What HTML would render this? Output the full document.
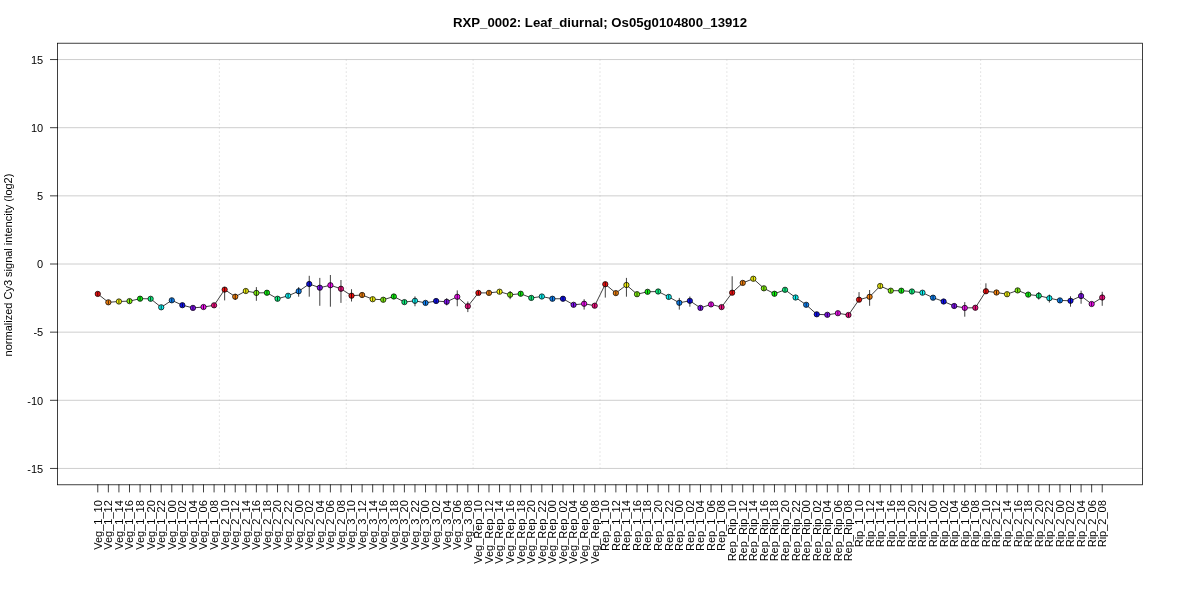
<!DOCTYPE html><html><head><meta charset="utf-8"><title>RXP_0002: Leaf_diurnal; Os05g0104800_13912</title>
<style>html,body{margin:0;padding:0;background:#fff;width:1200px;height:600px;overflow:hidden}svg{display:block;will-change:transform}text{font-family:"Liberation Sans",Arial,Helvetica,sans-serif;fill:#000}</style></head><body>
<svg width="1200" height="600" viewBox="0 0 1200 600">
<rect width="1200" height="600" fill="#fff"/>
<path d="M57.6 468.44H1142.4M57.6 400.3H1142.4M57.6 332.15H1142.4M57.6 264H1142.4M57.6 195.85H1142.4M57.6 127.7H1142.4M57.6 59.56H1142.4" stroke="#BEBEBE" stroke-width="0.75" fill="none"/>
<path d="M219.37 59.56V468.44M346.25 59.56V468.44M473.12 59.56V468.44M600 59.56V468.44M726.88 59.56V468.44M853.75 59.56V468.44M980.63 59.56V468.44" stroke="#BEBEBE" stroke-width="0.75" stroke-dasharray="1 3" fill="none"/>
<path d="M97.78 293.9 L108.35 302.3 L118.92 301.5 L129.5 301.1 L140.07 298.7 L150.64 298.8 L161.22 307.3 L171.79 300.3 L182.36 305.2 L192.94 307.9 L203.51 307 L214.08 305.3 L224.65 289.6 L235.23 296.7 L245.8 291 L256.37 292.9 L266.95 292.75 L277.52 298.75 L288.09 295.8 L298.67 291.25 L309.24 284 L319.81 287.7 L330.39 285.25 L340.96 288.75 L351.53 295.7 L362.11 295 L372.68 299.2 L383.25 299.75 L393.82 296.5 L404.4 302.1 L414.97 300.8 L425.54 302.9 L436.12 301 L446.69 301.8 L457.26 296.8 L467.84 306.25 L478.41 292.9 L488.98 292.9 L499.56 291.7 L510.13 294.75 L520.7 293.75 L531.27 297.9 L541.85 296.5 L552.42 298.75 L562.99 298.75 L573.57 304.8 L584.14 303.75 L594.71 305.7 L605.29 284.2 L615.86 293.1 L626.43 285 L637.01 294.2 L647.58 291.8 L658.15 291.5 L668.73 296.9 L679.3 302.8 L689.87 300.8 L700.44 307.9 L711.02 304.4 L721.59 307.1 L732.16 292.7 L742.74 282.9 L753.31 278.75 L763.88 288.3 L774.46 293.75 L785.03 289.8 L795.6 297.5 L806.18 304.8 L816.75 314.3 L827.32 314.8 L837.89 313.2 L848.47 315 L859.04 299.7 L869.61 296.8 L880.19 286 L890.76 290.7 L901.33 290.7 L911.91 291.5 L922.48 292.7 L933.05 297.7 L943.63 301.5 L954.2 306 L964.77 307.9 L975.35 307.75 L985.92 291.25 L996.49 292.5 L1007.06 294.2 L1017.64 290.4 L1028.21 294.6 L1038.78 295.7 L1049.36 298.2 L1059.93 300.4 L1070.5 300.8 L1081.08 296 L1091.65 304 L1102.22 297.5" stroke="#000" stroke-width="0.75" fill="none" stroke-linejoin="round"/>
<circle cx="97.78" cy="293.9" r="2.65" fill="#F61111" stroke="#000" stroke-width="0.75"/>
<circle cx="108.35" cy="302.3" r="2.65" fill="#F68411" stroke="#000" stroke-width="0.75"/>
<circle cx="118.92" cy="301.5" r="2.65" fill="#F6F611" stroke="#000" stroke-width="0.75"/>
<circle cx="129.5" cy="301.1" r="2.65" fill="#84F611" stroke="#000" stroke-width="0.75"/>
<circle cx="140.07" cy="298.7" r="2.65" fill="#11F611" stroke="#000" stroke-width="0.75"/>
<circle cx="150.64" cy="298.8" r="2.65" fill="#11F684" stroke="#000" stroke-width="0.75"/>
<circle cx="161.22" cy="307.3" r="2.65" fill="#11F6F6" stroke="#000" stroke-width="0.75"/>
<circle cx="171.79" cy="300.3" r="2.65" fill="#1184F6" stroke="#000" stroke-width="0.75"/>
<circle cx="182.36" cy="305.2" r="2.65" fill="#1111F6" stroke="#000" stroke-width="0.75"/>
<circle cx="192.94" cy="307.9" r="2.65" fill="#8411F6" stroke="#000" stroke-width="0.75"/>
<circle cx="203.51" cy="307" r="2.65" fill="#F611F6" stroke="#000" stroke-width="0.75"/>
<circle cx="214.08" cy="305.3" r="2.65" fill="#F61184" stroke="#000" stroke-width="0.75"/>
<circle cx="224.65" cy="289.6" r="2.65" fill="#F61111" stroke="#000" stroke-width="0.75"/>
<circle cx="235.23" cy="296.7" r="2.65" fill="#F68411" stroke="#000" stroke-width="0.75"/>
<circle cx="245.8" cy="291" r="2.65" fill="#F6F611" stroke="#000" stroke-width="0.75"/>
<circle cx="256.37" cy="292.9" r="2.65" fill="#84F611" stroke="#000" stroke-width="0.75"/>
<circle cx="266.95" cy="292.75" r="2.65" fill="#11F611" stroke="#000" stroke-width="0.75"/>
<circle cx="277.52" cy="298.75" r="2.65" fill="#11F684" stroke="#000" stroke-width="0.75"/>
<circle cx="288.09" cy="295.8" r="2.65" fill="#11F6F6" stroke="#000" stroke-width="0.75"/>
<circle cx="298.67" cy="291.25" r="2.65" fill="#1184F6" stroke="#000" stroke-width="0.75"/>
<circle cx="309.24" cy="284" r="2.65" fill="#1111F6" stroke="#000" stroke-width="0.75"/>
<circle cx="319.81" cy="287.7" r="2.65" fill="#8411F6" stroke="#000" stroke-width="0.75"/>
<circle cx="330.39" cy="285.25" r="2.65" fill="#F611F6" stroke="#000" stroke-width="0.75"/>
<circle cx="340.96" cy="288.75" r="2.65" fill="#F61184" stroke="#000" stroke-width="0.75"/>
<circle cx="351.53" cy="295.7" r="2.65" fill="#F61111" stroke="#000" stroke-width="0.75"/>
<circle cx="362.11" cy="295" r="2.65" fill="#F68411" stroke="#000" stroke-width="0.75"/>
<circle cx="372.68" cy="299.2" r="2.65" fill="#F6F611" stroke="#000" stroke-width="0.75"/>
<circle cx="383.25" cy="299.75" r="2.65" fill="#84F611" stroke="#000" stroke-width="0.75"/>
<circle cx="393.82" cy="296.5" r="2.65" fill="#11F611" stroke="#000" stroke-width="0.75"/>
<circle cx="404.4" cy="302.1" r="2.65" fill="#11F684" stroke="#000" stroke-width="0.75"/>
<circle cx="414.97" cy="300.8" r="2.65" fill="#11F6F6" stroke="#000" stroke-width="0.75"/>
<circle cx="425.54" cy="302.9" r="2.65" fill="#1184F6" stroke="#000" stroke-width="0.75"/>
<circle cx="436.12" cy="301" r="2.65" fill="#1111F6" stroke="#000" stroke-width="0.75"/>
<circle cx="446.69" cy="301.8" r="2.65" fill="#8411F6" stroke="#000" stroke-width="0.75"/>
<circle cx="457.26" cy="296.8" r="2.65" fill="#F611F6" stroke="#000" stroke-width="0.75"/>
<circle cx="467.84" cy="306.25" r="2.65" fill="#F61184" stroke="#000" stroke-width="0.75"/>
<circle cx="478.41" cy="292.9" r="2.65" fill="#F61111" stroke="#000" stroke-width="0.75"/>
<circle cx="488.98" cy="292.9" r="2.65" fill="#F68411" stroke="#000" stroke-width="0.75"/>
<circle cx="499.56" cy="291.7" r="2.65" fill="#F6F611" stroke="#000" stroke-width="0.75"/>
<circle cx="510.13" cy="294.75" r="2.65" fill="#84F611" stroke="#000" stroke-width="0.75"/>
<circle cx="520.7" cy="293.75" r="2.65" fill="#11F611" stroke="#000" stroke-width="0.75"/>
<circle cx="531.27" cy="297.9" r="2.65" fill="#11F684" stroke="#000" stroke-width="0.75"/>
<circle cx="541.85" cy="296.5" r="2.65" fill="#11F6F6" stroke="#000" stroke-width="0.75"/>
<circle cx="552.42" cy="298.75" r="2.65" fill="#1184F6" stroke="#000" stroke-width="0.75"/>
<circle cx="562.99" cy="298.75" r="2.65" fill="#1111F6" stroke="#000" stroke-width="0.75"/>
<circle cx="573.57" cy="304.8" r="2.65" fill="#8411F6" stroke="#000" stroke-width="0.75"/>
<circle cx="584.14" cy="303.75" r="2.65" fill="#F611F6" stroke="#000" stroke-width="0.75"/>
<circle cx="594.71" cy="305.7" r="2.65" fill="#F61184" stroke="#000" stroke-width="0.75"/>
<circle cx="605.29" cy="284.2" r="2.65" fill="#F61111" stroke="#000" stroke-width="0.75"/>
<circle cx="615.86" cy="293.1" r="2.65" fill="#F68411" stroke="#000" stroke-width="0.75"/>
<circle cx="626.43" cy="285" r="2.65" fill="#F6F611" stroke="#000" stroke-width="0.75"/>
<circle cx="637.01" cy="294.2" r="2.65" fill="#84F611" stroke="#000" stroke-width="0.75"/>
<circle cx="647.58" cy="291.8" r="2.65" fill="#11F611" stroke="#000" stroke-width="0.75"/>
<circle cx="658.15" cy="291.5" r="2.65" fill="#11F684" stroke="#000" stroke-width="0.75"/>
<circle cx="668.73" cy="296.9" r="2.65" fill="#11F6F6" stroke="#000" stroke-width="0.75"/>
<circle cx="679.3" cy="302.8" r="2.65" fill="#1184F6" stroke="#000" stroke-width="0.75"/>
<circle cx="689.87" cy="300.8" r="2.65" fill="#1111F6" stroke="#000" stroke-width="0.75"/>
<circle cx="700.44" cy="307.9" r="2.65" fill="#8411F6" stroke="#000" stroke-width="0.75"/>
<circle cx="711.02" cy="304.4" r="2.65" fill="#F611F6" stroke="#000" stroke-width="0.75"/>
<circle cx="721.59" cy="307.1" r="2.65" fill="#F61184" stroke="#000" stroke-width="0.75"/>
<circle cx="732.16" cy="292.7" r="2.65" fill="#F61111" stroke="#000" stroke-width="0.75"/>
<circle cx="742.74" cy="282.9" r="2.65" fill="#F68411" stroke="#000" stroke-width="0.75"/>
<circle cx="753.31" cy="278.75" r="2.65" fill="#F6F611" stroke="#000" stroke-width="0.75"/>
<circle cx="763.88" cy="288.3" r="2.65" fill="#84F611" stroke="#000" stroke-width="0.75"/>
<circle cx="774.46" cy="293.75" r="2.65" fill="#11F611" stroke="#000" stroke-width="0.75"/>
<circle cx="785.03" cy="289.8" r="2.65" fill="#11F684" stroke="#000" stroke-width="0.75"/>
<circle cx="795.6" cy="297.5" r="2.65" fill="#11F6F6" stroke="#000" stroke-width="0.75"/>
<circle cx="806.18" cy="304.8" r="2.65" fill="#1184F6" stroke="#000" stroke-width="0.75"/>
<circle cx="816.75" cy="314.3" r="2.65" fill="#1111F6" stroke="#000" stroke-width="0.75"/>
<circle cx="827.32" cy="314.8" r="2.65" fill="#8411F6" stroke="#000" stroke-width="0.75"/>
<circle cx="837.89" cy="313.2" r="2.65" fill="#F611F6" stroke="#000" stroke-width="0.75"/>
<circle cx="848.47" cy="315" r="2.65" fill="#F61184" stroke="#000" stroke-width="0.75"/>
<circle cx="859.04" cy="299.7" r="2.65" fill="#F61111" stroke="#000" stroke-width="0.75"/>
<circle cx="869.61" cy="296.8" r="2.65" fill="#F68411" stroke="#000" stroke-width="0.75"/>
<circle cx="880.19" cy="286" r="2.65" fill="#F6F611" stroke="#000" stroke-width="0.75"/>
<circle cx="890.76" cy="290.7" r="2.65" fill="#84F611" stroke="#000" stroke-width="0.75"/>
<circle cx="901.33" cy="290.7" r="2.65" fill="#11F611" stroke="#000" stroke-width="0.75"/>
<circle cx="911.91" cy="291.5" r="2.65" fill="#11F684" stroke="#000" stroke-width="0.75"/>
<circle cx="922.48" cy="292.7" r="2.65" fill="#11F6F6" stroke="#000" stroke-width="0.75"/>
<circle cx="933.05" cy="297.7" r="2.65" fill="#1184F6" stroke="#000" stroke-width="0.75"/>
<circle cx="943.63" cy="301.5" r="2.65" fill="#1111F6" stroke="#000" stroke-width="0.75"/>
<circle cx="954.2" cy="306" r="2.65" fill="#8411F6" stroke="#000" stroke-width="0.75"/>
<circle cx="964.77" cy="307.9" r="2.65" fill="#F611F6" stroke="#000" stroke-width="0.75"/>
<circle cx="975.35" cy="307.75" r="2.65" fill="#F61184" stroke="#000" stroke-width="0.75"/>
<circle cx="985.92" cy="291.25" r="2.65" fill="#F61111" stroke="#000" stroke-width="0.75"/>
<circle cx="996.49" cy="292.5" r="2.65" fill="#F68411" stroke="#000" stroke-width="0.75"/>
<circle cx="1007.06" cy="294.2" r="2.65" fill="#F6F611" stroke="#000" stroke-width="0.75"/>
<circle cx="1017.64" cy="290.4" r="2.65" fill="#84F611" stroke="#000" stroke-width="0.75"/>
<circle cx="1028.21" cy="294.6" r="2.65" fill="#11F611" stroke="#000" stroke-width="0.75"/>
<circle cx="1038.78" cy="295.7" r="2.65" fill="#11F684" stroke="#000" stroke-width="0.75"/>
<circle cx="1049.36" cy="298.2" r="2.65" fill="#11F6F6" stroke="#000" stroke-width="0.75"/>
<circle cx="1059.93" cy="300.4" r="2.65" fill="#1184F6" stroke="#000" stroke-width="0.75"/>
<circle cx="1070.5" cy="300.8" r="2.65" fill="#1111F6" stroke="#000" stroke-width="0.75"/>
<circle cx="1081.08" cy="296" r="2.65" fill="#8411F6" stroke="#000" stroke-width="0.75"/>
<circle cx="1091.65" cy="304" r="2.65" fill="#F611F6" stroke="#000" stroke-width="0.75"/>
<circle cx="1102.22" cy="297.5" r="2.65" fill="#F61184" stroke="#000" stroke-width="0.75"/>
<path d="M97.78 291.9V295.9M108.35 300.3V304.3M118.92 299.5V303.5M129.5 299.1V303.1M140.07 296.7V300.7M150.64 296.8V300.8M161.22 305.3V309.3M171.79 298.3V302.3M182.36 303.2V307.2M192.94 305.9V309.9M203.51 305V309M214.08 303.3V307.3M224.65 287V300.4M235.23 294V300M245.8 289V293M256.37 287.1V300.8M266.95 290.75V294.75M277.52 296.75V300.75M288.09 293.8V297.8M298.67 287.1V296.7M309.24 275.8V296.7M319.81 277.9V305.8M330.39 275V306.7M340.96 280V302.9M351.53 289.2V301.5M362.11 293V297M372.68 297.2V301.2M383.25 297.75V301.75M393.82 294.5V298.5M404.4 300.1V304.1M414.97 296.4V306.25M425.54 300.9V304.9M436.12 299V303M446.69 298.3V305.4M457.26 290.4V306.25M467.84 301.5V312.1M478.41 290.9V294.9M488.98 290.9V294.9M499.56 289.7V293.7M510.13 291V299.2M520.7 291.75V295.75M531.27 295.9V299.9M541.85 294.5V298.5M552.42 296.75V300.75M562.99 296.75V300.75M573.57 302.8V306.8M584.14 299.2V309.6M594.71 303.7V307.7M605.29 282V297.6M615.86 291.1V295.1M626.43 277.9V296.7M637.01 292.2V296.2M647.58 289.8V293.8M658.15 289.5V293.5M668.73 294.9V298.9M679.3 297.9V309.6M689.87 296.5V306.7M700.44 305.9V309.9M711.02 302.4V306.4M721.59 305.1V309.1M732.16 276.25V294.5M742.74 280.9V284.9M753.31 276.75V280.75M763.88 286.3V290.3M774.46 291.75V295.75M785.03 287.8V291.8M795.6 295.5V299.5M806.18 302.8V306.8M816.75 312.3V316.3M827.32 312.8V316.8M837.89 311.2V315.2M848.47 313V317M859.04 292.1V302M869.61 290V305.8M880.19 284V288M890.76 288.7V292.7M901.33 288.7V292.7M911.91 289.5V293.5M922.48 290.7V294.7M933.05 295.7V299.7M943.63 299.5V303.5M954.2 304V308M964.77 302.1V316.7M975.35 305.75V309.75M985.92 283.3V293.5M996.49 290.5V294.5M1007.06 292.2V296.2M1017.64 288.4V292.4M1028.21 292.6V296.6M1038.78 292V299.6M1049.36 294.6V302.6M1059.93 298.4V302.4M1070.5 296.25V306.7M1081.08 290.7V303.75M1091.65 302V306M1102.22 291.8V305.8" stroke="#000" stroke-width="0.75" fill="none"/>
<rect x="57.6" y="43.2" width="1084.8" height="441.6" fill="none" stroke="#000" stroke-width="0.75"/>
<path d="M50.4 468.44H57.6M50.4 400.3H57.6M50.4 332.15H57.6M50.4 264H57.6M50.4 195.85H57.6M50.4 127.7H57.6M50.4 59.56H57.6M97.78 484.8V492M108.35 484.8V492M118.92 484.8V492M129.5 484.8V492M140.07 484.8V492M150.64 484.8V492M161.22 484.8V492M171.79 484.8V492M182.36 484.8V492M192.94 484.8V492M203.51 484.8V492M214.08 484.8V492M224.65 484.8V492M235.23 484.8V492M245.8 484.8V492M256.37 484.8V492M266.95 484.8V492M277.52 484.8V492M288.09 484.8V492M298.67 484.8V492M309.24 484.8V492M319.81 484.8V492M330.39 484.8V492M340.96 484.8V492M351.53 484.8V492M362.11 484.8V492M372.68 484.8V492M383.25 484.8V492M393.82 484.8V492M404.4 484.8V492M414.97 484.8V492M425.54 484.8V492M436.12 484.8V492M446.69 484.8V492M457.26 484.8V492M467.84 484.8V492M478.41 484.8V492M488.98 484.8V492M499.56 484.8V492M510.13 484.8V492M520.7 484.8V492M531.27 484.8V492M541.85 484.8V492M552.42 484.8V492M562.99 484.8V492M573.57 484.8V492M584.14 484.8V492M594.71 484.8V492M605.29 484.8V492M615.86 484.8V492M626.43 484.8V492M637.01 484.8V492M647.58 484.8V492M658.15 484.8V492M668.73 484.8V492M679.3 484.8V492M689.87 484.8V492M700.44 484.8V492M711.02 484.8V492M721.59 484.8V492M732.16 484.8V492M742.74 484.8V492M753.31 484.8V492M763.88 484.8V492M774.46 484.8V492M785.03 484.8V492M795.6 484.8V492M806.18 484.8V492M816.75 484.8V492M827.32 484.8V492M837.89 484.8V492M848.47 484.8V492M859.04 484.8V492M869.61 484.8V492M880.19 484.8V492M890.76 484.8V492M901.33 484.8V492M911.91 484.8V492M922.48 484.8V492M933.05 484.8V492M943.63 484.8V492M954.2 484.8V492M964.77 484.8V492M975.35 484.8V492M985.92 484.8V492M996.49 484.8V492M1007.06 484.8V492M1017.64 484.8V492M1028.21 484.8V492M1038.78 484.8V492M1049.36 484.8V492M1059.93 484.8V492M1070.5 484.8V492M1081.08 484.8V492M1091.65 484.8V492M1102.22 484.8V492" stroke="#000" stroke-width="0.75" stroke-linecap="round" fill="none"/>
<text x="43.2" y="472.74" text-anchor="end" font-size="11">-15</text>
<text x="43.2" y="404.6" text-anchor="end" font-size="11">-10</text>
<text x="43.2" y="336.45" text-anchor="end" font-size="11">-5</text>
<text x="43.2" y="268.3" text-anchor="end" font-size="11">0</text>
<text x="43.2" y="200.15" text-anchor="end" font-size="11">5</text>
<text x="43.2" y="132" text-anchor="end" font-size="11">10</text>
<text x="43.2" y="63.86" text-anchor="end" font-size="11">15</text>
<text transform="translate(101.68 500.2) rotate(-90)" text-anchor="end" font-size="11">Veg_1_10</text>
<text transform="translate(112.25 500.2) rotate(-90)" text-anchor="end" font-size="11">Veg_1_12</text>
<text transform="translate(122.82 500.2) rotate(-90)" text-anchor="end" font-size="11">Veg_1_14</text>
<text transform="translate(133.4 500.2) rotate(-90)" text-anchor="end" font-size="11">Veg_1_16</text>
<text transform="translate(143.97 500.2) rotate(-90)" text-anchor="end" font-size="11">Veg_1_18</text>
<text transform="translate(154.54 500.2) rotate(-90)" text-anchor="end" font-size="11">Veg_1_20</text>
<text transform="translate(165.12 500.2) rotate(-90)" text-anchor="end" font-size="11">Veg_1_22</text>
<text transform="translate(175.69 500.2) rotate(-90)" text-anchor="end" font-size="11">Veg_1_00</text>
<text transform="translate(186.26 500.2) rotate(-90)" text-anchor="end" font-size="11">Veg_1_02</text>
<text transform="translate(196.84 500.2) rotate(-90)" text-anchor="end" font-size="11">Veg_1_04</text>
<text transform="translate(207.41 500.2) rotate(-90)" text-anchor="end" font-size="11">Veg_1_06</text>
<text transform="translate(217.98 500.2) rotate(-90)" text-anchor="end" font-size="11">Veg_1_08</text>
<text transform="translate(228.55 500.2) rotate(-90)" text-anchor="end" font-size="11">Veg_2_10</text>
<text transform="translate(239.13 500.2) rotate(-90)" text-anchor="end" font-size="11">Veg_2_12</text>
<text transform="translate(249.7 500.2) rotate(-90)" text-anchor="end" font-size="11">Veg_2_14</text>
<text transform="translate(260.27 500.2) rotate(-90)" text-anchor="end" font-size="11">Veg_2_16</text>
<text transform="translate(270.85 500.2) rotate(-90)" text-anchor="end" font-size="11">Veg_2_18</text>
<text transform="translate(281.42 500.2) rotate(-90)" text-anchor="end" font-size="11">Veg_2_20</text>
<text transform="translate(291.99 500.2) rotate(-90)" text-anchor="end" font-size="11">Veg_2_22</text>
<text transform="translate(302.57 500.2) rotate(-90)" text-anchor="end" font-size="11">Veg_2_00</text>
<text transform="translate(313.14 500.2) rotate(-90)" text-anchor="end" font-size="11">Veg_2_02</text>
<text transform="translate(323.71 500.2) rotate(-90)" text-anchor="end" font-size="11">Veg_2_04</text>
<text transform="translate(334.29 500.2) rotate(-90)" text-anchor="end" font-size="11">Veg_2_06</text>
<text transform="translate(344.86 500.2) rotate(-90)" text-anchor="end" font-size="11">Veg_2_08</text>
<text transform="translate(355.43 500.2) rotate(-90)" text-anchor="end" font-size="11">Veg_3_10</text>
<text transform="translate(366.01 500.2) rotate(-90)" text-anchor="end" font-size="11">Veg_3_12</text>
<text transform="translate(376.58 500.2) rotate(-90)" text-anchor="end" font-size="11">Veg_3_14</text>
<text transform="translate(387.15 500.2) rotate(-90)" text-anchor="end" font-size="11">Veg_3_16</text>
<text transform="translate(397.72 500.2) rotate(-90)" text-anchor="end" font-size="11">Veg_3_18</text>
<text transform="translate(408.3 500.2) rotate(-90)" text-anchor="end" font-size="11">Veg_3_20</text>
<text transform="translate(418.87 500.2) rotate(-90)" text-anchor="end" font-size="11">Veg_3_22</text>
<text transform="translate(429.44 500.2) rotate(-90)" text-anchor="end" font-size="11">Veg_3_00</text>
<text transform="translate(440.02 500.2) rotate(-90)" text-anchor="end" font-size="11">Veg_3_02</text>
<text transform="translate(450.59 500.2) rotate(-90)" text-anchor="end" font-size="11">Veg_3_04</text>
<text transform="translate(461.16 500.2) rotate(-90)" text-anchor="end" font-size="11">Veg_3_06</text>
<text transform="translate(471.74 500.2) rotate(-90)" text-anchor="end" font-size="11">Veg_3_08</text>
<text transform="translate(482.31 500.2) rotate(-90)" text-anchor="end" font-size="11">Veg_Rep_10</text>
<text transform="translate(492.88 500.2) rotate(-90)" text-anchor="end" font-size="11">Veg_Rep_12</text>
<text transform="translate(503.46 500.2) rotate(-90)" text-anchor="end" font-size="11">Veg_Rep_14</text>
<text transform="translate(514.03 500.2) rotate(-90)" text-anchor="end" font-size="11">Veg_Rep_16</text>
<text transform="translate(524.6 500.2) rotate(-90)" text-anchor="end" font-size="11">Veg_Rep_18</text>
<text transform="translate(535.17 500.2) rotate(-90)" text-anchor="end" font-size="11">Veg_Rep_20</text>
<text transform="translate(545.75 500.2) rotate(-90)" text-anchor="end" font-size="11">Veg_Rep_22</text>
<text transform="translate(556.32 500.2) rotate(-90)" text-anchor="end" font-size="11">Veg_Rep_00</text>
<text transform="translate(566.89 500.2) rotate(-90)" text-anchor="end" font-size="11">Veg_Rep_02</text>
<text transform="translate(577.47 500.2) rotate(-90)" text-anchor="end" font-size="11">Veg_Rep_04</text>
<text transform="translate(588.04 500.2) rotate(-90)" text-anchor="end" font-size="11">Veg_Rep_06</text>
<text transform="translate(598.61 500.2) rotate(-90)" text-anchor="end" font-size="11">Veg_Rep_08</text>
<text transform="translate(609.19 500.2) rotate(-90)" text-anchor="end" font-size="11">Rep_1_10</text>
<text transform="translate(619.76 500.2) rotate(-90)" text-anchor="end" font-size="11">Rep_1_12</text>
<text transform="translate(630.33 500.2) rotate(-90)" text-anchor="end" font-size="11">Rep_1_14</text>
<text transform="translate(640.91 500.2) rotate(-90)" text-anchor="end" font-size="11">Rep_1_16</text>
<text transform="translate(651.48 500.2) rotate(-90)" text-anchor="end" font-size="11">Rep_1_18</text>
<text transform="translate(662.05 500.2) rotate(-90)" text-anchor="end" font-size="11">Rep_1_20</text>
<text transform="translate(672.63 500.2) rotate(-90)" text-anchor="end" font-size="11">Rep_1_22</text>
<text transform="translate(683.2 500.2) rotate(-90)" text-anchor="end" font-size="11">Rep_1_00</text>
<text transform="translate(693.77 500.2) rotate(-90)" text-anchor="end" font-size="11">Rep_1_02</text>
<text transform="translate(704.34 500.2) rotate(-90)" text-anchor="end" font-size="11">Rep_1_04</text>
<text transform="translate(714.92 500.2) rotate(-90)" text-anchor="end" font-size="11">Rep_1_06</text>
<text transform="translate(725.49 500.2) rotate(-90)" text-anchor="end" font-size="11">Rep_1_08</text>
<text transform="translate(736.06 500.2) rotate(-90)" text-anchor="end" font-size="11">Rep_Rip_10</text>
<text transform="translate(746.64 500.2) rotate(-90)" text-anchor="end" font-size="11">Rep_Rip_12</text>
<text transform="translate(757.21 500.2) rotate(-90)" text-anchor="end" font-size="11">Rep_Rip_14</text>
<text transform="translate(767.78 500.2) rotate(-90)" text-anchor="end" font-size="11">Rep_Rip_16</text>
<text transform="translate(778.36 500.2) rotate(-90)" text-anchor="end" font-size="11">Rep_Rip_18</text>
<text transform="translate(788.93 500.2) rotate(-90)" text-anchor="end" font-size="11">Rep_Rip_20</text>
<text transform="translate(799.5 500.2) rotate(-90)" text-anchor="end" font-size="11">Rep_Rip_22</text>
<text transform="translate(810.08 500.2) rotate(-90)" text-anchor="end" font-size="11">Rep_Rip_00</text>
<text transform="translate(820.65 500.2) rotate(-90)" text-anchor="end" font-size="11">Rep_Rip_02</text>
<text transform="translate(831.22 500.2) rotate(-90)" text-anchor="end" font-size="11">Rep_Rip_04</text>
<text transform="translate(841.79 500.2) rotate(-90)" text-anchor="end" font-size="11">Rep_Rip_06</text>
<text transform="translate(852.37 500.2) rotate(-90)" text-anchor="end" font-size="11">Rep_Rip_08</text>
<text transform="translate(862.94 500.2) rotate(-90)" text-anchor="end" font-size="11">Rip_1_10</text>
<text transform="translate(873.51 500.2) rotate(-90)" text-anchor="end" font-size="11">Rip_1_12</text>
<text transform="translate(884.09 500.2) rotate(-90)" text-anchor="end" font-size="11">Rip_1_14</text>
<text transform="translate(894.66 500.2) rotate(-90)" text-anchor="end" font-size="11">Rip_1_16</text>
<text transform="translate(905.23 500.2) rotate(-90)" text-anchor="end" font-size="11">Rip_1_18</text>
<text transform="translate(915.81 500.2) rotate(-90)" text-anchor="end" font-size="11">Rip_1_20</text>
<text transform="translate(926.38 500.2) rotate(-90)" text-anchor="end" font-size="11">Rip_1_22</text>
<text transform="translate(936.95 500.2) rotate(-90)" text-anchor="end" font-size="11">Rip_1_00</text>
<text transform="translate(947.53 500.2) rotate(-90)" text-anchor="end" font-size="11">Rip_1_02</text>
<text transform="translate(958.1 500.2) rotate(-90)" text-anchor="end" font-size="11">Rip_1_04</text>
<text transform="translate(968.67 500.2) rotate(-90)" text-anchor="end" font-size="11">Rip_1_06</text>
<text transform="translate(979.25 500.2) rotate(-90)" text-anchor="end" font-size="11">Rip_1_08</text>
<text transform="translate(989.82 500.2) rotate(-90)" text-anchor="end" font-size="11">Rip_2_10</text>
<text transform="translate(1000.39 500.2) rotate(-90)" text-anchor="end" font-size="11">Rip_2_12</text>
<text transform="translate(1010.96 500.2) rotate(-90)" text-anchor="end" font-size="11">Rip_2_14</text>
<text transform="translate(1021.54 500.2) rotate(-90)" text-anchor="end" font-size="11">Rip_2_16</text>
<text transform="translate(1032.11 500.2) rotate(-90)" text-anchor="end" font-size="11">Rip_2_18</text>
<text transform="translate(1042.68 500.2) rotate(-90)" text-anchor="end" font-size="11">Rip_2_20</text>
<text transform="translate(1053.26 500.2) rotate(-90)" text-anchor="end" font-size="11">Rip_2_22</text>
<text transform="translate(1063.83 500.2) rotate(-90)" text-anchor="end" font-size="11">Rip_2_00</text>
<text transform="translate(1074.4 500.2) rotate(-90)" text-anchor="end" font-size="11">Rip_2_02</text>
<text transform="translate(1084.98 500.2) rotate(-90)" text-anchor="end" font-size="11">Rip_2_04</text>
<text transform="translate(1095.55 500.2) rotate(-90)" text-anchor="end" font-size="11">Rip_2_06</text>
<text transform="translate(1106.12 500.2) rotate(-90)" text-anchor="end" font-size="11">Rip_2_08</text>
<text transform="translate(12.3 265) rotate(-90)" text-anchor="middle" font-size="11">normalized Cy3 signal intencity (log2)</text>
<text x="600" y="26.7" text-anchor="middle" font-size="13.2" font-weight="bold">RXP_0002: Leaf_diurnal; Os05g0104800_13912</text>
</svg></body></html>
